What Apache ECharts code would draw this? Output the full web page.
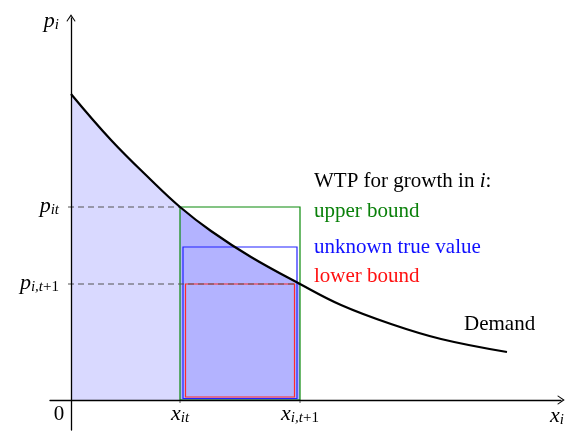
<!DOCTYPE html>
<html><head><meta charset="utf-8">
<script src="https://cdn.jsdelivr.net/npm/echarts@6/dist/echarts.min.js"></script>
<style>html,body{margin:0;padding:0;background:#fff}#c{width:576px;height:445px}</style>
</head><body><div id="c"></div>
<script>
// ---- data ----
const demandX = [0, 4, 8, 10.9, 14, 18, 22.9, 27, 32, 37, 43.6];
const demandY = [30.6, 26.0, 22.0, 19.3, 16.9, 14.3, 11.6, 9.5, 7.6, 6.1, 4.8];
const xTickVals = [10.9, 22.9];          // x_it, x_{i,t+1}
const pTickVals = [19.3, 11.6];          // p_it, p_{i,t+1}
const trueVal = [15.3];                  // unknown true value height
const xTickLabels = ['{m|x}{s|it}', '{m|x}{s|i,t}{sn|+1}'];
const pTickLabels = ['{m|p}{s|it}', '{m|p}{s|i,t}{sn|+1}'];
const legendTexts = ['upper bound', 'unknown true value', 'lower bound'];

const SERIF = '"Liberation Serif", "DejaVu Serif", serif';
const FS = 21;
const rich = {
  m: {fontFamily: SERIF, fontStyle: 'italic', fontSize: 22, lineHeight: 24, fill: '#000', color: '#000'},
  s: {fontFamily: SERIF, fontStyle: 'italic', fontSize: 15, lineHeight: 14, verticalAlign: 'bottom', fill: '#000', color: '#000'},
  sn: {fontFamily: SERIF, fontSize: 15, lineHeight: 14, verticalAlign: 'bottom', fill: '#000', color: '#000'},
  n: {fontFamily: SERIF, fontSize: FS, lineHeight: 24, fill: '#000', color: '#000'},
  it: {fontFamily: SERIF, fontStyle: 'italic', fontSize: FS, lineHeight: 24, fill: '#000', color: '#000'}
};

const pts = demandX.map((x, i) => [x, demandY[i]]);
const lightPts = pts.filter(p => p[0] <= xTickVals[0]);
const darkPts = pts.filter(p => p[0] >= xTickVals[0] && p[0] <= xTickVals[1]);

const boxes = [
  {top: pTickVals[0], color: '#0a8a0a', ix: 0, ib: 0},
  {top: trueVal[0], color: '#2222ff', ix: 3, ib: 1.5},
  {top: pTickVals[1], color: '#ff2a2a', ix: 5.5, ib: 3}
];

const chevron = 'path://M0,0 L6,9 L5.2,10 L0,2.6 L-5.2,10 L-6,9 Z';

const chart = echarts.init(document.getElementById('c'));
chart.setOption({
  animation: false,
  grid: {left: 50, right: 15, top: 18, bottom: 15},
  xAxis: {
    type: 'value', min: -2.1, max: 49, z: 20,
    axisLine: {onZero: true, lineStyle: {color: '#000', width: 1.3}, symbol: ['none', chevron], symbolSize: [9, 10]},
    axisTick: {show: false}, axisLabel: {show: false}, splitLine: {show: false}
  },
  yAxis: {
    type: 'value', min: -3, max: 38.2, z: 20,
    axisLine: {onZero: true, lineStyle: {color: '#000', width: 1.3}, symbol: ['none', chevron], symbolSize: [9, 10]},
    axisTick: {show: false}, axisLabel: {show: false}, splitLine: {show: false}
  },
  series: [
    {type: 'line', data: lightPts, smooth: 0.4, symbol: 'none', lineStyle: {width: 0}, areaStyle: {color: '#d9d9ff', opacity: 1}, z: 1},
    {type: 'line', data: darkPts, smooth: 0.4, symbol: 'none', lineStyle: {width: 0}, areaStyle: {color: '#b3b3ff', opacity: 1}, z: 2},
    {
      type: 'custom', z: 3, data: boxes.map((b, i) => [xTickVals[0], b.top]),
      renderItem: (params, api) => {
        const b = boxes[params.dataIndex];
        const p0 = api.coord([xTickVals[0], 0]);
        const p1 = api.coord([xTickVals[1], b.top]);
        return {type: 'rect', shape: {x: p0[0] + b.ix, y: p1[1], width: p1[0] - p0[0] - 2 * b.ix, height: p0[1] - p1[1] - b.ib},
          style: {fill: 'none', stroke: b.color, lineWidth: 1.2}};
      }
    },
    {
      // dashed guide lines and tick marks
      type: 'custom', z: 4, data: pTickVals.map((p, i) => [xTickVals[i], p]),
      renderItem: (params, api) => {
        const i = params.dataIndex;
        const a = api.coord([0, pTickVals[i]]);
        const b = api.coord([xTickVals[i], pTickVals[i]]);
        const t = api.coord([xTickVals[i], 0]);
        return {type: 'group', children: [
          {type: 'line', shape: {x1: a[0] - 3, y1: a[1], x2: b[0], y2: b[1]}, style: {stroke: '#555', lineWidth: 1.2, lineDash: [6, 4]}},
          {type: 'line', shape: {x1: t[0], y1: t[1], x2: t[0], y2: t[1] + 3}, style: {stroke: '#555', lineWidth: 1}}
        ]};
      }
    },
    {type: 'line', data: pts, smooth: 0.4, symbol: 'none', lineStyle: {color: '#000', width: 2.2}, z: 5},
    {
      // tick labels
      type: 'custom', z: 6, data: xTickVals.map((x, i) => [x, pTickVals[i]]),
      renderItem: (params, api) => {
        const i = params.dataIndex;
        const xp = api.coord([xTickVals[i], 0]);
        const yp = api.coord([0, pTickVals[i]]);
        return {type: 'group', children: [
          {type: 'text', x: xp[0], y: xp[1] + 14, style: {text: xTickLabels[i], rich: rich, align: 'center', verticalAlign: 'middle'}},
          {type: 'text', x: yp[0] - 12, y: yp[1] - 1, style: {text: pTickLabels[i], rich: rich, align: 'right', verticalAlign: 'middle'}}
        ]};
      }
    }
  ],
  graphic: [
    {type: 'text', x: 59, y: 21, style: {text: '{m|p}{s|i}', rich: rich, align: 'right', textAlign: 'right', verticalAlign: 'middle', textVerticalAlign: 'middle'}},
    {type: 'text', x: 557, y: 416, style: {text: '{m|x}{s|i}', rich: rich, align: 'center', textAlign: 'center', verticalAlign: 'middle', textVerticalAlign: 'middle'}},
    {type: 'text', x: 59, y: 414, style: {text: '0', font: FS + 'px ' + SERIF, fill: '#000', align: 'center', textAlign: 'center', verticalAlign: 'middle', textVerticalAlign: 'middle'}},
    {type: 'text', x: 124, y: 311, style: {text: 'WTP for', font: FS + 'px ' + SERIF, fill: '#000', align: 'center', textAlign: 'center', verticalAlign: 'middle', textVerticalAlign: 'middle'}},
    {type: 'text', x: 124, y: 337, style: {text: '{it|i}{n| at }{it|t}', rich: rich, align: 'center', textAlign: 'center', verticalAlign: 'middle', textVerticalAlign: 'middle'}},
    {type: 'text', x: 314, y: 181, style: {text: '{n|WTP for growth in }{it|i}{n|:}', rich: rich, align: 'left', textAlign: 'left', verticalAlign: 'middle', textVerticalAlign: 'middle'}},
    {type: 'text', x: 314, y: 211, style: {text: legendTexts[0], font: FS + 'px ' + SERIF, fill: '#0a800a', align: 'left', textAlign: 'left', verticalAlign: 'middle', textVerticalAlign: 'middle'}},
    {type: 'text', x: 314, y: 247, style: {text: legendTexts[1], font: FS + 'px ' + SERIF, fill: '#1010ff', align: 'left', textAlign: 'left', verticalAlign: 'middle', textVerticalAlign: 'middle'}},
    {type: 'text', x: 314, y: 276, style: {text: legendTexts[2], font: FS + 'px ' + SERIF, fill: '#ff1010', align: 'left', textAlign: 'left', verticalAlign: 'middle', textVerticalAlign: 'middle'}},
    {type: 'text', x: 464, y: 324, style: {text: 'Demand', font: FS + 'px ' + SERIF, fill: '#000', align: 'left', textAlign: 'left', verticalAlign: 'middle', textVerticalAlign: 'middle'}}
  ]
});
</script>
</body></html>
